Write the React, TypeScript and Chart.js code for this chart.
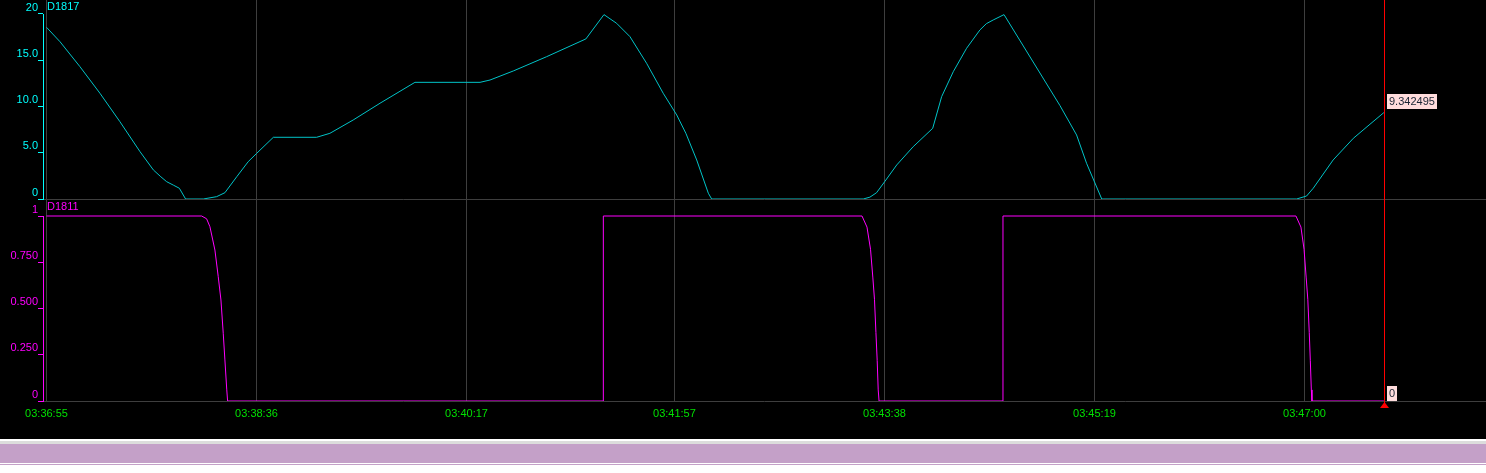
import React, { useEffect, useRef } from 'react';
import { Chart, registerables } from 'chart.js';

Chart.register(...registerables);

// ---- data ----
const timeTickSeconds = [0, 101, 202, 302, 403, 504, 605];
const timeTickLabels = ['03:36:55', '03:38:36', '03:40:17', '03:41:57', '03:43:38', '03:45:19', '03:47:00'];

const topTickValues = [0, 5, 10, 15, 20];
const topTickLabels = ['0', '5.0', '10.0', '15.0', '20'];
const bottomTickValues = [0, 0.25, 0.5, 0.75, 1];
const bottomTickLabels = ['0', '0.250', '0.500', '0.750', '1'];

const seriesNames = ['D1817', 'D1811'];

const cyanSeconds = [
  0, 6.5, 16.1, 25.7, 35.3, 45.0, 51.4, 55.0, 57.8, 61.0, 63.9, 66.9, 75.4, 81.8, 85.8, 91.5, 97.0,
  101.1, 109.1, 129.9, 136.3, 147.5, 160.4, 177.2, 208.5, 213.3, 224.5, 240.5, 259.4, 268.1,
  274.2, 280.6, 288.6, 296.6, 303.1, 307.5, 312.7, 318.3, 319.9, 392.8, 396.0, 399.2, 403.1,
  408.9, 416.8, 426.2, 430.5, 436.1, 442.5, 448.9, 452.0, 455.3, 460.5, 487.4, 495.4, 500.2, 507.5,
  601.2, 606.0, 609.2, 618.8, 628.5, 636.5, 643.2,
];
const cyanValues = [
  18.56, 17.0, 14.3, 11.43, 8.36, 5.11, 3.14, 2.4, 1.87, 1.5, 1.16, 0.0, 0.0, 0.25, 0.68, 2.41, 4.03,
  4.94, 6.67, 6.67, 7.1, 8.54, 10.35, 12.61, 12.61, 12.86, 13.84, 15.38, 17.3, 19.93,
  18.99, 17.55, 14.67, 11.43, 9.08, 7.1, 4.22, 0.62, 0.0, 0.0, 0.2, 0.68, 1.87,
  3.68, 5.65, 7.64, 11.06, 13.76, 16.29, 18.27, 18.95, 19.35, 19.93, 10.1, 6.92, 3.86, 0.0,
  0.0, 0.32, 1.16, 4.22, 6.56, 8.08, 9.342495,
];

const magentaSeconds = [
  0, 74.6, 77.0, 78.6, 81.0, 82.6, 83.9, 85.0, 85.8, 86.7, 87.1,
  267.8, 267.8,
  392.2, 394.6, 396.3, 397.4, 398.2, 398.9, 399.5, 400.0, 400.4,
  460.0, 460.0,
  600.9, 603.3, 604.8, 605.8, 606.6, 607.3, 607.8, 608.3, 608.6,
  643.2,
];
const magentaValues = [
  1, 1, 0.985, 0.942, 0.816, 0.672, 0.546, 0.366, 0.222, 0.06, 0,
  0, 1,
  1, 0.94, 0.82, 0.67, 0.55, 0.37, 0.22, 0.06, 0,
  0, 1,
  1, 0.94, 0.82, 0.67, 0.55, 0.37, 0.22, 0.06, 0,
  0,
];

const cursorSecond = 643.2;
const cursorLabels = ['9.342495', '0'];
const cursorValues = [9.342495, 0];

// ---- styles ----
const CYAN_LINE = '#00C4C8';
const CYAN_TEXT = '#00FFFF';
const MAGENTA = '#FF00FF';
const GREEN = '#00E000';
const GRID = '#3E3E3E';
const NONE = 'rgba(0,0,0,0)';
const FONT = "'Liberation Sans', Arial, sans-serif";

const overlayPlugin = {
  id: 'overlay',
  beforeDatasetsDraw(chart: any) {
    const ctx = chart.ctx as CanvasRenderingContext2D;
    const { yTop, yBot } = chart.scales;
    const { left, right } = chart.chartArea;
    ctx.save();
    ctx.lineWidth = 1;
    ctx.strokeStyle = GRID;
    for (const s of [yTop, yBot]) {
      const py = Math.round(s.getPixelForValue(0) - 0.5) + 0.5;
      ctx.beginPath();
      ctx.moveTo(left, py);
      ctx.lineTo(right, py);
      ctx.stroke();
    }
    ctx.restore();
  },
  afterDraw(chart: any) {
    const ctx = chart.ctx as CanvasRenderingContext2D;
    const { x, yTop, yBot } = chart.scales;
    const left = chart.chartArea.left;
    ctx.save();
    ctx.lineWidth = 1;

    // axis lines spanning the tick range only
    ctx.strokeStyle = CYAN_TEXT;
    ctx.beginPath();
    ctx.moveTo(left + 0.5, Math.round(yTop.getPixelForValue(topTickValues[topTickValues.length - 1])));
    ctx.lineTo(left + 0.5, Math.round(yTop.getPixelForValue(0)) + 1);
    ctx.stroke();
    ctx.strokeStyle = MAGENTA;
    ctx.beginPath();
    ctx.moveTo(left + 0.5, Math.round(yBot.getPixelForValue(bottomTickValues[bottomTickValues.length - 1])));
    ctx.lineTo(left + 0.5, Math.round(yBot.getPixelForValue(0)) + 1);
    ctx.stroke();

    // series titles
    ctx.font = `11px ${FONT}`;
    ctx.textBaseline = 'top';
    ctx.textAlign = 'left';
    ctx.fillStyle = CYAN_TEXT;
    ctx.fillText(seriesNames[0], left + 4, yTop.top + 1);
    ctx.fillStyle = MAGENTA;
    ctx.fillText(seriesNames[1], left + 4, yBot.top + 2);

    // cursor
    const cx = Math.round(x.getPixelForValue(cursorSecond)) + 0.5;
    const bottom = Math.round(yBot.getPixelForValue(0));
    ctx.strokeStyle = '#FF0000';
    ctx.beginPath();
    ctx.moveTo(cx, 0);
    ctx.lineTo(cx, bottom + 2);
    ctx.stroke();
    ctx.fillStyle = '#FF0000';
    ctx.beginPath();
    ctx.moveTo(cx, bottom + 1);
    ctx.lineTo(cx - 4.5, bottom + 7);
    ctx.lineTo(cx + 4.5, bottom + 7);
    ctx.closePath();
    ctx.fill();

    // cursor value boxes
    const scales = [yTop, yBot];
    const offsets = [-19, -15];
    ctx.textBaseline = 'middle';
    for (let i = 0; i < cursorLabels.length; i++) {
      const py = scales[i].getPixelForValue(cursorValues[i]);
      const w = Math.round(ctx.measureText(cursorLabels[i]).width) + 4;
      const bx = Math.round(cx + 2.5);
      const by = Math.round(py + offsets[i]);
      ctx.fillStyle = '#FFDCDC';
      ctx.fillRect(bx, by, w, 15);
      ctx.fillStyle = '#1A2433';
      ctx.fillText(cursorLabels[i], bx + 2, by + 8);
    }
    ctx.restore();
  },
};

function yScale(values: number[], labels: string[], color: string, max: number, weight: number) {
  return {
    type: 'linear',
    position: 'left',
    stack: 'panels',
    stackWeight: weight,
    min: 0,
    max,
    afterBuildTicks: (s: any) => {
      s.ticks = values.map((v) => ({ value: v }));
    },
    afterFit: (s: any) => {
      s.width = 43;
      s.paddingTop = 0;
      s.paddingBottom = 0;
    },
    border: { display: false },
    grid: {
      tickLength: 5,
      tickColor: color,
      color: NONE,
    },
    ticks: {
      autoSkip: false,
      padding: 0,
      labelOffset: -6.5,
      color,
      font: { family: FONT, size: 11 },
      callback: (_v: any, i: number) => labels[i],
    },
  };
}

export default function App() {
  const canvasRef = useRef<HTMLCanvasElement | null>(null);

  useEffect(() => {
    document.body.style.margin = '0';
    const canvas = canvasRef.current;
    if (!canvas) return;
    const cyanData = cyanSeconds.map((t, i) => ({ x: t, y: cyanValues[i] }));
    const magentaData = magentaSeconds.map((t, i) => ({ x: t, y: magentaValues[i] }));

    const chart = new Chart(canvas, {
      type: 'line',
      data: {
        datasets: [
          { label: seriesNames[0], data: cyanData, borderColor: CYAN_LINE, borderWidth: 1, pointRadius: 0, tension: 0, yAxisID: 'yTop' },
          { label: seriesNames[1], data: magentaData, borderColor: MAGENTA, borderWidth: 1, pointRadius: 0, tension: 0, yAxisID: 'yBot' },
        ],
      },
      options: {
        animation: false,
        responsive: false,
        devicePixelRatio: 1,
        plugins: { legend: { display: false }, tooltip: { enabled: false } },
        scales: {
          x: {
            type: 'linear',
            position: 'bottom',
            min: -1.68,
            max: 692.3,
            afterBuildTicks: (s: any) => {
              s.ticks = timeTickSeconds.map((v) => ({ value: v }));
            },
            afterFit: (s: any) => {
              s.height = 38;
              s.paddingLeft = 0;
              s.paddingRight = 0;
            },
            border: { display: false },
            grid: {
              color: (c: any) => (c.tick && timeTickSeconds.includes(c.tick.value) ? GRID : NONE),
              drawTicks: false,
            },
            ticks: {
              autoSkip: false,
              maxRotation: 0,
              padding: 6,
              color: GREEN,
              font: { family: FONT, size: 11 },
              callback: (_v: any, i: number) => timeTickLabels[i],
            },
          },
          yBot: yScale(bottomTickValues, bottomTickLabels, MAGENTA, 1.0919, 202) as any,
          yTop: yScale(topTickValues, topTickLabels, CYAN_TEXT, 21.51, 199) as any,
        },
      } as any,
      plugins: [overlayPlugin],
    });
    return () => chart.destroy();
  }, []);

  return (
    <div style={{ width: 1486, height: 473, background: '#FFFFFF' }}>
      <div style={{ width: 1486, height: 439, background: '#000000' }}>
        <canvas ref={canvasRef} width={1486} height={439} style={{ display: 'block' }} />
      </div>
      <div style={{ height: 2, background: '#FFFFFF' }} />
      <div style={{ height: 3, background: '#DCDCDC' }} />
      <div style={{ height: 19, background: '#C4A0C8' }} />
      <div style={{ height: 1, background: '#FFFFFF' }} />
      <div style={{ height: 1, background: '#C4A0C8' }} />
    </div>
  );
}
